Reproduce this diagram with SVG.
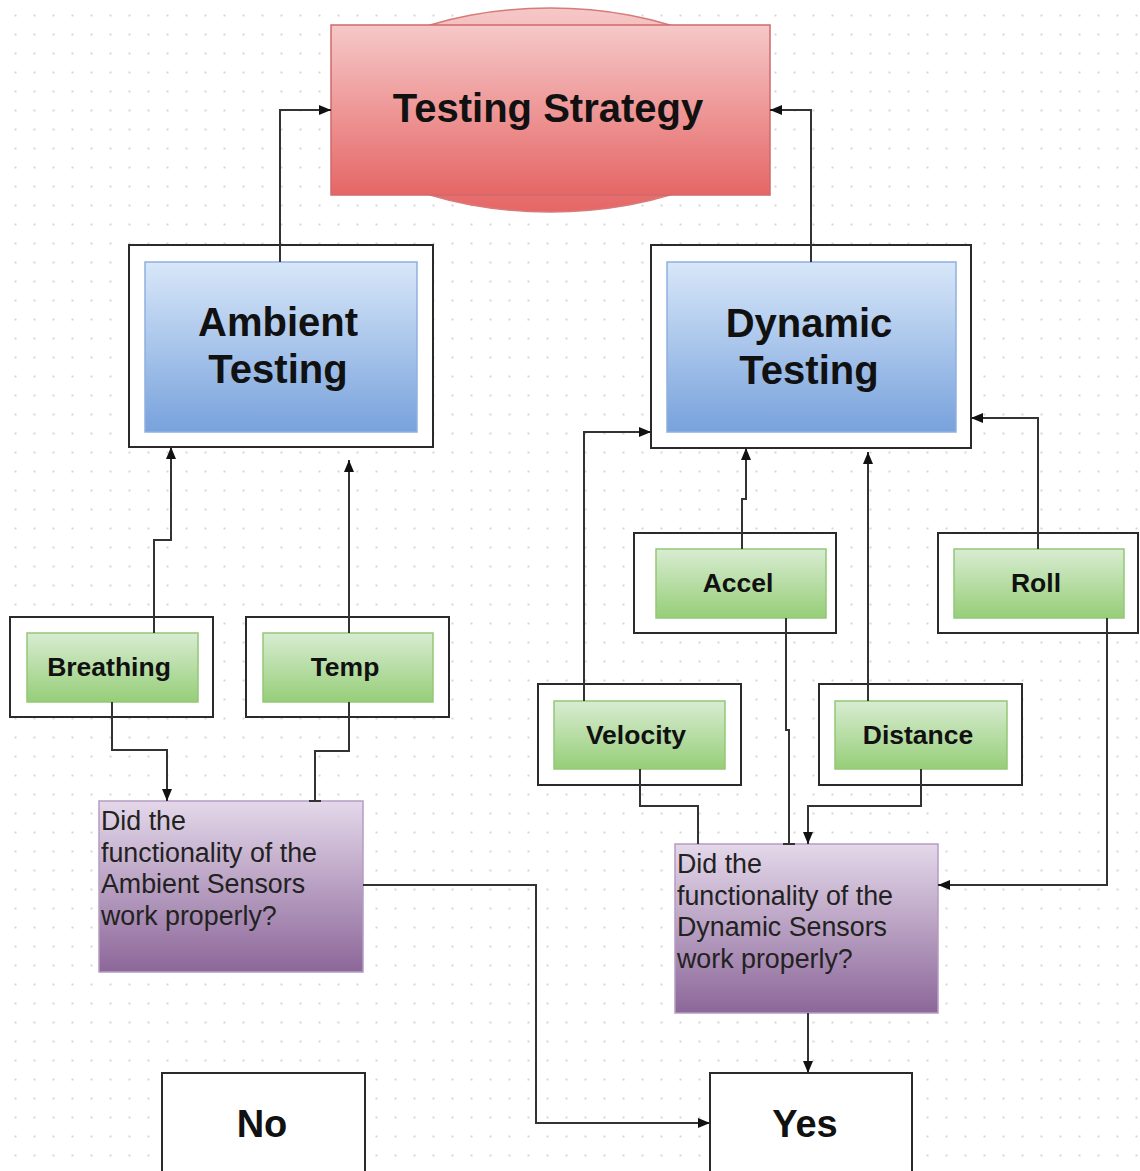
<svg xmlns="http://www.w3.org/2000/svg" width="1140" height="1171" viewBox="0 0 1140 1171">
<style>
.outer{fill:#ffffff;stroke:#2a2a2a;stroke-width:2}
.blue{fill:url(#gBlue);stroke:#8fb0de;stroke-width:1.5}
.green{fill:url(#gGreen);stroke:#93c777;stroke-width:1.5}
.purple{fill:url(#gPurple);stroke:#b49cc2;stroke-width:1.5}
.plain{fill:#ffffff;stroke:#2a2a2a;stroke-width:2}
.big{font-family:"Liberation Sans",Arial,sans-serif;font-weight:bold;font-size:40px;fill:#111;text-anchor:middle}
.mid{font-family:"Liberation Sans",Arial,sans-serif;font-weight:bold;font-size:26.5px;fill:#111;text-anchor:middle}
.q{font-family:"Liberation Sans",Arial,sans-serif;font-size:26.8px;fill:#222}
.yn{font-family:"Liberation Sans",Arial,sans-serif;font-weight:bold;font-size:38px;fill:#111;text-anchor:middle}
.conn{fill:none;stroke:#333;stroke-width:2}
</style>
<defs>
<pattern id="dots" x="0" y="0" width="19" height="19" patternUnits="userSpaceOnUse">
<rect x="14.5" y="14.5" width="2" height="2" fill="#d6d6d6"/>
</pattern>
<linearGradient id="gRed" x1="0" y1="0" x2="0" y2="1">
<stop offset="0" stop-color="#f6c8c8"/>
<stop offset="1" stop-color="#e66666"/>
</linearGradient>
<linearGradient id="gBlue" x1="0" y1="0" x2="0" y2="1">
<stop offset="0" stop-color="#d8e7f9"/>
<stop offset="1" stop-color="#78a2dc"/>
</linearGradient>
<linearGradient id="gGreen" x1="0" y1="0" x2="0" y2="1">
<stop offset="0" stop-color="#d8ecd2"/>
<stop offset="1" stop-color="#96ce78"/>
</linearGradient>
<linearGradient id="gPurple" x1="0" y1="0" x2="0" y2="1">
<stop offset="0" stop-color="#e4d8ea"/>
<stop offset="1" stop-color="#8c6799"/>
</linearGradient>
<marker id="arrow" markerUnits="userSpaceOnUse" markerWidth="12" markerHeight="12" viewBox="0 0 12 12" refX="12" refY="6" orient="auto">
<path d="M0,1 L12,6 L0,11 Z" fill="#111"/>
</marker>
<marker id="tee" markerUnits="userSpaceOnUse" markerWidth="14" markerHeight="14" viewBox="0 0 14 14" refX="12" refY="7" orient="auto">
<path d="M12,1 L12,13" stroke="#333" stroke-width="2"/>
</marker>
</defs>
<rect x="0" y="0" width="1140" height="1171" fill="#ffffff"/>
<rect x="0" y="0" width="1140" height="1171" fill="url(#dots)"/>

<g id="testing-strategy">
<ellipse cx="550" cy="110" rx="217" ry="102" fill="url(#gRed)" stroke="#d77a7a" stroke-width="1.5"/>
<rect x="331" y="25" width="439" height="170" fill="url(#gRed)" stroke="#cf6a6a" stroke-width="1.5"/>
<text class="big" x="548" y="122">Testing Strategy</text>
</g>

<g id="ambient-testing">
<rect class="outer" x="129" y="245" width="304" height="202"/>
<rect class="blue" x="145" y="262" width="272" height="170"/>
<text class="big" x="278" y="336">Ambient</text>
<text class="big" x="278" y="383">Testing</text>
</g>

<g id="dynamic-testing">
<rect class="outer" x="651" y="245" width="320" height="203"/>
<rect class="blue" x="667" y="262" width="289" height="170"/>
<text class="big" x="809" y="337">Dynamic</text>
<text class="big" x="809" y="384">Testing</text>
</g>

<g id="breathing">
<rect class="outer" x="10" y="617" width="203" height="100"/>
<rect class="green" x="27" y="633" width="171" height="69"/>
<text class="mid" x="109" y="676">Breathing</text>
</g>

<g id="temp">
<rect class="outer" x="246" y="617" width="203" height="100"/>
<rect class="green" x="263" y="633" width="170" height="69"/>
<text class="mid" x="345" y="676">Temp</text>
</g>

<g id="accel">
<rect class="outer" x="634" y="533" width="202" height="100"/>
<rect class="green" x="656" y="549" width="170" height="69"/>
<text class="mid" x="738" y="592">Accel</text>
</g>

<g id="roll">
<rect class="outer" x="938" y="533" width="200" height="100"/>
<rect class="green" x="954" y="549" width="170" height="69"/>
<text class="mid" x="1036" y="592">Roll</text>
</g>

<g id="velocity">
<rect class="outer" x="538" y="684" width="203" height="101"/>
<rect class="green" x="554" y="701" width="171" height="68"/>
<text class="mid" x="636" y="744">Velocity</text>
</g>

<g id="distance">
<rect class="outer" x="819" y="684" width="203" height="101"/>
<rect class="green" x="835" y="701" width="172" height="68"/>
<text class="mid" x="918" y="744">Distance</text>
</g>

<g id="ambient-question">
<rect class="purple" x="99" y="801" width="264" height="171"/>
<text class="q" x="101" y="830">Did the</text>
<text class="q" x="101" y="862">functionality of the</text>
<text class="q" x="101" y="893">Ambient Sensors</text>
<text class="q" x="101" y="925">work properly?</text>
</g>

<g id="dynamic-question">
<rect class="purple" x="675" y="844" width="263" height="169"/>
<text class="q" x="677" y="873">Did the</text>
<text class="q" x="677" y="905">functionality of the</text>
<text class="q" x="677" y="936">Dynamic Sensors</text>
<text class="q" x="677" y="968">work properly?</text>
</g>

<g id="no">
<rect class="plain" x="162" y="1073" width="203" height="110"/>
<text class="yn" x="262" y="1137">No</text>
</g>

<g id="yes">
<rect class="plain" x="710" y="1073" width="202" height="110"/>
<text class="yn" x="805" y="1137">Yes</text>
</g>

<g id="connectors">
<path class="conn" d="M280,262 V110 H331" marker-end="url(#arrow)"/>
<path class="conn" d="M811,262 V110 H770" marker-end="url(#arrow)"/>
<path class="conn" d="M154,633 V540 H171 V447" marker-end="url(#arrow)"/>
<path class="conn" d="M349,633 V460" marker-end="url(#arrow)"/>
<path class="conn" d="M112,702 V750 H167 V801" marker-end="url(#arrow)"/>
<path class="conn" d="M349,702 V751 H315 V801" marker-end="url(#tee)"/>
<path class="conn" d="M584,701 V432 H651" marker-end="url(#arrow)"/>
<path class="conn" d="M742,549 V499 H746 V448" marker-end="url(#arrow)"/>
<path class="conn" d="M868,701 V452" marker-end="url(#arrow)"/>
<path class="conn" d="M1038,549 V418 H971" marker-end="url(#arrow)"/>
<path class="conn" d="M786,618 V730 H789 V844" marker-end="url(#tee)"/>
<path class="conn" d="M921,769 V806 H808 V844" marker-end="url(#arrow)"/>
<path class="conn" d="M640,769 V806 H698 V844"/>
<path class="conn" d="M1107,618 V885 H938" marker-end="url(#arrow)"/>
<path class="conn" d="M363,885 H536 V1123 H710" marker-end="url(#arrow)"/>
<path class="conn" d="M808,1013 V1073" marker-end="url(#arrow)"/>
</g>
</svg>
